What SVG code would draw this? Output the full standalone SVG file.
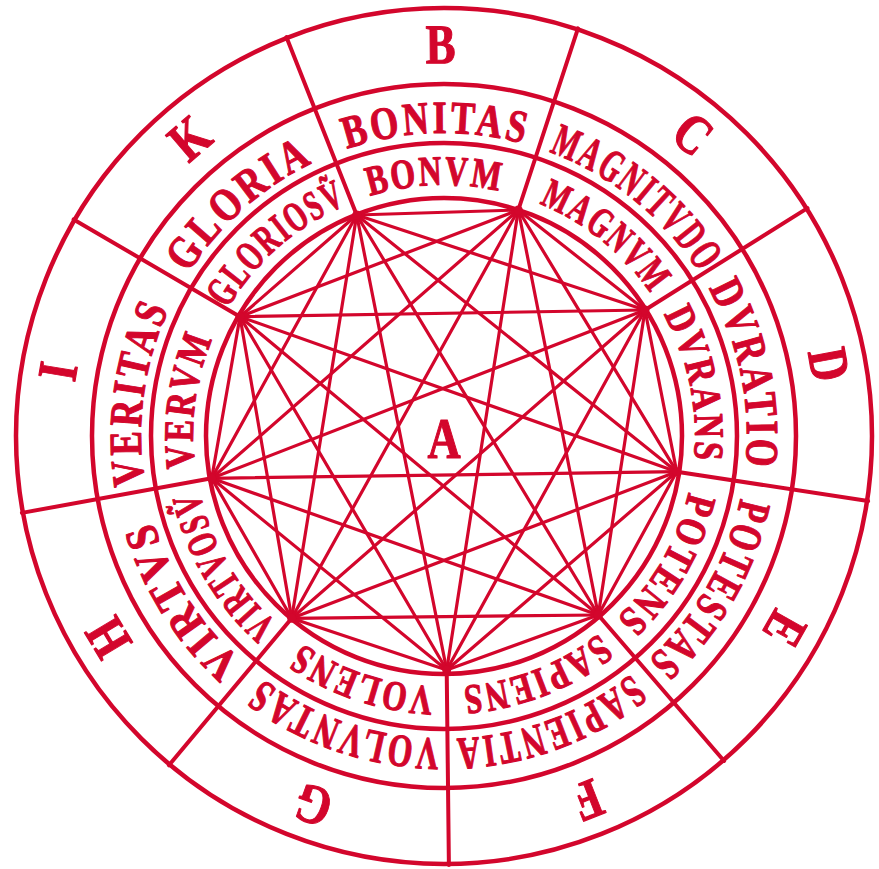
<svg xmlns="http://www.w3.org/2000/svg" xmlns:xlink="http://www.w3.org/1999/xlink" width="879" height="869" viewBox="0 0 879 869">
<defs>
<style>
.ring{fill:none;stroke:#d3062c;stroke-width:4.5}
.sec{stroke:#d3062c;stroke-width:4;stroke-linecap:round}
.ch{stroke:#d3062c;stroke-width:3.2;stroke-linecap:round}
.t{fill:#d3062c;stroke:#d3062c;stroke-width:1.1;stroke-linejoin:round;font-family:"Liberation Serif","DejaVu Serif",serif;font-weight:bold}
.lt{font-size:56px}
.ow{font-size:46px;letter-spacing:4px}
.iw{font-size:42px;letter-spacing:3px}
.dot{fill:#d3062c}
</style>
<path id="po" d="M181.6 284.5 A303 303 0 0 1 706.4 284.5"/>
<path id="pi" d="M226.6 310.5 A251 251 0 0 1 661.4 310.5"/>
</defs>
<rect width="879" height="869" fill="#fff"/>
<g id="rings">
<circle class="ring" cx="444" cy="436" r="428"/>
<circle class="ring" cx="444" cy="436" r="352"/>
<circle class="ring" cx="444" cy="436" r="293"/>
<circle class="ring" cx="444" cy="436" r="238"/>
</g>
<g id="sector-lines">
<line class="sec" x1="356.7" y1="215" x2="286.4" y2="37"/>
<line class="sec" x1="518.3" y1="210" x2="578" y2="28.4"/>
<line class="sec" x1="645" y1="310" x2="807.5" y2="208.1"/>
<line class="sec" x1="676.7" y1="471.7" x2="868.1" y2="501.1"/>
<line class="sec" x1="598.3" y1="615" x2="724.1" y2="761"/>
<line class="sec" x1="446.7" y1="670" x2="448.9" y2="865"/>
<line class="sec" x1="291.7" y1="618.3" x2="168.9" y2="765.3"/>
<line class="sec" x1="211.7" y1="478.3" x2="21.9" y2="512.9"/>
<line class="sec" x1="240" y1="316.7" x2="73.6" y2="219.4"/>
</g>
<g id="connectors">
<line class="ch" x1="356.7" y1="215" x2="518.3" y2="210"/>
<line class="ch" x1="356.7" y1="215" x2="645" y2="310"/>
<line class="ch" x1="356.7" y1="215" x2="676.7" y2="471.7"/>
<line class="ch" x1="356.7" y1="215" x2="598.3" y2="615"/>
<line class="ch" x1="356.7" y1="215" x2="446.7" y2="670"/>
<line class="ch" x1="356.7" y1="215" x2="291.7" y2="618.3"/>
<line class="ch" x1="356.7" y1="215" x2="211.7" y2="478.3"/>
<line class="ch" x1="356.7" y1="215" x2="240" y2="316.7"/>
<line class="ch" x1="518.3" y1="210" x2="645" y2="310"/>
<line class="ch" x1="518.3" y1="210" x2="676.7" y2="471.7"/>
<line class="ch" x1="518.3" y1="210" x2="598.3" y2="615"/>
<line class="ch" x1="518.3" y1="210" x2="446.7" y2="670"/>
<line class="ch" x1="518.3" y1="210" x2="291.7" y2="618.3"/>
<line class="ch" x1="518.3" y1="210" x2="211.7" y2="478.3"/>
<line class="ch" x1="518.3" y1="210" x2="240" y2="316.7"/>
<line class="ch" x1="645" y1="310" x2="676.7" y2="471.7"/>
<line class="ch" x1="645" y1="310" x2="598.3" y2="615"/>
<line class="ch" x1="645" y1="310" x2="446.7" y2="670"/>
<line class="ch" x1="645" y1="310" x2="291.7" y2="618.3"/>
<line class="ch" x1="645" y1="310" x2="211.7" y2="478.3"/>
<line class="ch" x1="645" y1="310" x2="240" y2="316.7"/>
<line class="ch" x1="676.7" y1="471.7" x2="598.3" y2="615"/>
<line class="ch" x1="676.7" y1="471.7" x2="446.7" y2="670"/>
<line class="ch" x1="676.7" y1="471.7" x2="291.7" y2="618.3"/>
<line class="ch" x1="676.7" y1="471.7" x2="211.7" y2="478.3"/>
<line class="ch" x1="676.7" y1="471.7" x2="240" y2="316.7"/>
<line class="ch" x1="598.3" y1="615" x2="446.7" y2="670"/>
<line class="ch" x1="598.3" y1="615" x2="291.7" y2="618.3"/>
<line class="ch" x1="598.3" y1="615" x2="211.7" y2="478.3"/>
<line class="ch" x1="598.3" y1="615" x2="240" y2="316.7"/>
<line class="ch" x1="446.7" y1="670" x2="291.7" y2="618.3"/>
<line class="ch" x1="446.7" y1="670" x2="211.7" y2="478.3"/>
<line class="ch" x1="446.7" y1="670" x2="240" y2="316.7"/>
<line class="ch" x1="291.7" y1="618.3" x2="211.7" y2="478.3"/>
<line class="ch" x1="291.7" y1="618.3" x2="240" y2="316.7"/>
<line class="ch" x1="211.7" y1="478.3" x2="240" y2="316.7"/>
</g>
<g id="vertices">
<circle class="dot" cx="356.7" cy="215" r="4.5"/>
<circle class="dot" cx="518.3" cy="210" r="4.5"/>
<circle class="dot" cx="645" cy="310" r="4.5"/>
<circle class="dot" cx="676.7" cy="471.7" r="4.5"/>
<circle class="dot" cx="598.3" cy="615" r="4.5"/>
<circle class="dot" cx="446.7" cy="670" r="4.5"/>
<circle class="dot" cx="291.7" cy="618.3" r="4.5"/>
<circle class="dot" cx="211.7" cy="478.3" r="4.5"/>
<circle class="dot" cx="240" cy="316.7" r="4.5"/>
</g>
<g id="node-A"><text class="t" font-size="56" text-anchor="middle" transform="translate(444,458) scale(0.82,1)">A</text></g>
<g id="node-B">
<text class="t lt" text-anchor="middle" transform="rotate(-0.5 444 436) translate(444 63) scale(0.8 1)">B</text>
<text class="t ow" transform="rotate(-1.5 444 436)"><textPath href="#po" startOffset="50%" text-anchor="middle" textLength="182" lengthAdjust="spacingAndGlyphs">BONITAS</textPath></text>
<text class="t iw" transform="rotate(-2 444 436)"><textPath href="#pi" startOffset="50%" text-anchor="middle" textLength="133" lengthAdjust="spacingAndGlyphs">BONVM</textPath></text>
</g>
<g id="node-C">
<text class="t lt" text-anchor="middle" transform="rotate(39.5 444 436) translate(444 63) scale(0.8 1)">C</text>
<text class="t ow" transform="rotate(39 444 436)"><textPath href="#po" startOffset="50%" text-anchor="middle" textLength="198" lengthAdjust="spacingAndGlyphs">MAGNITVDO</textPath></text>
<text class="t iw" transform="rotate(39 444 436)"><textPath href="#pi" startOffset="50%" text-anchor="middle" textLength="147" lengthAdjust="spacingAndGlyphs">MAGNVM</textPath></text>
</g>
<g id="node-D">
<text class="t lt" text-anchor="middle" transform="rotate(79.5 444 436) translate(444 63) scale(0.8 1)">D</text>
<text class="t ow" transform="rotate(78.5 444 436)"><textPath href="#po" startOffset="50%" text-anchor="middle" textLength="187" lengthAdjust="spacingAndGlyphs">DVRATIO</textPath></text>
<text class="t iw" transform="rotate(78.4 444 436)"><textPath href="#pi" startOffset="50%" text-anchor="middle" textLength="153" lengthAdjust="spacingAndGlyphs">DVRANS</textPath></text>
</g>
<g id="node-E">
<text class="t lt" text-anchor="middle" transform="rotate(119.5 444 436) translate(444 63) scale(0.8 1)">E</text>
<text class="t ow" transform="rotate(120 444 436)"><textPath href="#po" startOffset="50%" text-anchor="middle" textLength="192" lengthAdjust="spacingAndGlyphs">POTESTAS</textPath></text>
<text class="t iw" transform="rotate(120 444 436)"><textPath href="#pi" startOffset="50%" text-anchor="middle" textLength="150" lengthAdjust="spacingAndGlyphs">POTENS</textPath></text>
</g>
<g id="node-F">
<text class="t lt" text-anchor="middle" transform="rotate(158.5 444 436) translate(444 63) scale(0.8 1)">F</text>
<text class="t ow" transform="rotate(160 444 436)"><textPath href="#po" startOffset="50%" text-anchor="middle" textLength="192" lengthAdjust="spacingAndGlyphs">SAPIENTIA</textPath></text>
<text class="t iw" transform="rotate(159 444 436)"><textPath href="#pi" startOffset="50%" text-anchor="middle" textLength="150" lengthAdjust="spacingAndGlyphs">SAPIENS</textPath></text>
</g>
<g id="node-G">
<text class="t lt" text-anchor="middle" transform="rotate(199.5 444 436) translate(444 63) scale(0.8 1)">G</text>
<text class="t ow" transform="rotate(199 444 436)"><textPath href="#po" startOffset="50%" text-anchor="middle" textLength="192" lengthAdjust="spacingAndGlyphs">VOLVNTAS</textPath></text>
<text class="t iw" transform="rotate(198.6 444 436)"><textPath href="#pi" startOffset="50%" text-anchor="middle" textLength="142" lengthAdjust="spacingAndGlyphs">VOLENS</textPath></text>
</g>
<g id="node-H">
<text class="t lt" text-anchor="middle" transform="rotate(239 444 436) translate(444 63) scale(0.8 1)">H</text>
<text class="t ow" transform="rotate(238 444 436)"><textPath href="#po" startOffset="50%" text-anchor="middle" textLength="171" lengthAdjust="spacingAndGlyphs">VIRTVS</textPath></text>
<text class="t iw" transform="rotate(239.5 444 436)"><textPath href="#pi" startOffset="50%" text-anchor="middle" textLength="158" lengthAdjust="spacingAndGlyphs">VIRTVOSṼ</textPath></text>
</g>
<g id="node-I">
<text class="t lt" text-anchor="middle" transform="rotate(279.5 444 436) translate(444 63) scale(0.8 1)">I</text>
<text class="t ow" transform="rotate(278 444 436)"><textPath href="#po" startOffset="50%" text-anchor="middle" textLength="182" lengthAdjust="spacingAndGlyphs">VERITAS</textPath></text>
<text class="t iw" transform="rotate(278 444 436)"><textPath href="#pi" startOffset="50%" text-anchor="middle" textLength="133" lengthAdjust="spacingAndGlyphs">VERVM</textPath></text>
</g>
<g id="node-K">
<text class="t lt" text-anchor="middle" transform="rotate(319.5 444 436) translate(444 63) scale(0.8 1)">K</text>
<text class="t ow" transform="rotate(318.6 444 436)"><textPath href="#po" startOffset="50%" text-anchor="middle" textLength="171" lengthAdjust="spacingAndGlyphs">GLORIA</textPath></text>
<text class="t iw" transform="rotate(319 444 436)"><textPath href="#pi" startOffset="50%" text-anchor="middle" textLength="162" lengthAdjust="spacingAndGlyphs">GLORIOSṼ</textPath></text>
</g>
</svg>
